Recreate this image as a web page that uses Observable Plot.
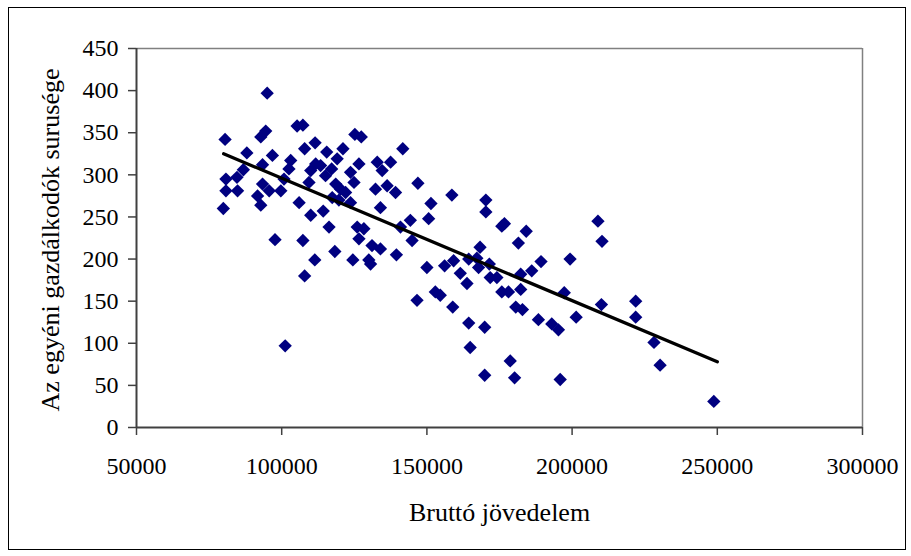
<!DOCTYPE html>
<html>
<head>
<meta charset="utf-8">
<script src="https://cdn.jsdelivr.net/npm/d3@7"></script>
<script src="https://cdn.jsdelivr.net/npm/@observablehq/plot@0.6"></script>
<style>
  html, body { margin: 0; padding: 0; background: #fff; }
  #wrap { position: relative; width: 911px; height: 556px; }
  #border { position: absolute; left: 8px; top: 7px; width: 896px; height: 541px; border: 1px solid #000; pointer-events: none; }
</style>
</head>
<body>
<div id="wrap"><div id="border"></div></div>
<script>
const xTicks = [50000, 100000, 150000, 200000, 250000, 300000];
const yTicks = [0, 50, 100, 150, 200, 250, 300, 350, 400, 450];
const xLabel = "Bruttó jövedelem";
const yLabel = "Az egyéni gazdálkodók surusége";

const incomes = [
  95000, 80500, 92800, 94500, 105300, 107300, 88000, 96800, 107900, 111500,
  115500, 103100, 102500, 93400, 86800, 84600, 80800, 84800, 80800, 93400,
  95700, 99700, 91700, 100800, 109400, 110000, 113400, 115100, 111700, 106000,
  92800, 79900, 114300, 117200, 118600, 119100, 125200, 127400, 121100, 141700,
  126600, 132900, 137500, 134600, 123700, 124900, 120300, 122000, 146900, 132300,
  136300, 139200, 158600, 117400, 119700, 123700, 134000, 151400, 150600, 144300,
  140900, 116300, 126000, 128300, 126600, 118300, 131100, 134000, 144900, 124500,
  130000, 139500, 130600, 110000, 97700, 107300, 111400, 107900, 101200, 146600,
  170300, 170300, 175800, 176700, 184200, 181500, 208900, 210300, 199300, 168300,
  159200, 156100, 150000, 164400, 167200, 171500, 167800, 161500, 163800, 171800,
  174100, 186100, 182300, 175800, 178100, 182300, 152900, 154600, 158900, 180600,
  182900, 197300, 210100, 201400, 188400, 193000, 195300, 164400, 169900, 164900,
  178700, 169900, 180200, 195900, 189300, 221900, 221900, 228200, 230300, 248800
];
const density = [
  397, 342, 345, 352, 358, 359, 326, 323, 331, 338,
  327, 317, 307, 312, 306, 297, 295, 281, 281, 289,
  281, 281, 275, 295, 291, 305, 311, 299, 313, 267,
  264, 260, 257, 307, 289, 319, 348, 345, 331, 331,
  313, 315, 315, 305, 303, 291, 283, 279, 290, 283,
  287, 279, 276, 273, 270, 267, 261, 266, 248, 246,
  238, 238, 238, 236, 224, 209, 216, 212, 222, 199,
  199, 205, 194, 252, 223, 222, 199, 180, 97, 151,
  270, 256, 239, 242, 233, 219, 245, 221, 200, 214,
  198, 192, 190, 200, 201, 194, 190, 183, 171, 178,
  178, 186, 182, 161, 161, 164, 161, 157, 143, 143,
  140, 160, 146, 131, 128, 123, 116, 124, 119, 95,
  79, 62, 59, 57, 197, 150, 131, 101, 74, 31
];

const trendX = [80000, 250000];
const trendY = [325, 78];

const points = incomes.map((x, i) => ({x, y: density[i]}));
const trend = trendX.map((x, i) => ({x, y: trendY[i]}));

const chart = Plot.plot({
  width: 911,
  height: 556,
  marginLeft: 136,
  marginRight: 49,
  marginTop: 48,
  marginBottom: 129,
  x: {domain: [50000, 300000]},
  y: {domain: [0, 450]},
  style: {
    fontFamily: "'Liberation Serif', 'Times New Roman', serif",
    fontSize: "24px",
    color: "#000",
    background: "transparent",
    overflow: "visible"
  },
  marks: [
    Plot.ruleY([450], {stroke: "#808080", strokeWidth: 1.5}),
    Plot.ruleX([300000], {stroke: "#808080", strokeWidth: 1.5}),
    Plot.dot(points, {x: "x", y: "y", symbol: "diamond2", r: 6, fill: "#000080", stroke: "none"}),
    Plot.line(trend, {x: "x", y: "y", stroke: "#000", strokeWidth: 3.3}),
    Plot.ruleY([0], {stroke: "#404040", strokeWidth: 2}),
    Plot.ruleX([50000], {stroke: "#404040", strokeWidth: 2}),
    Plot.axisX({ticks: xTicks, tickSize: 8, tickPadding: 21, tickFormat: d => String(d), label: null, stroke: "#404040", strokeWidth: 1.5, fontSize: 24}),
    Plot.axisY({ticks: yTicks, tickSize: 8, tickPadding: 10, tickFormat: d => String(d), label: null, stroke: "#404040", strokeWidth: 1.5, fontSize: 24}),
    Plot.text([xLabel], {text: d => d, frameAnchor: "bottom", dy: 93, lineAnchor: "bottom", fontSize: 26}),
    Plot.text([yLabel], {text: d => d, frameAnchor: "left", textAnchor: "middle", dx: -86, dy: 2, rotate: -90, fontSize: 26})
  ]
});
document.getElementById("wrap").prepend(chart);
</script>
</body>
</html>
